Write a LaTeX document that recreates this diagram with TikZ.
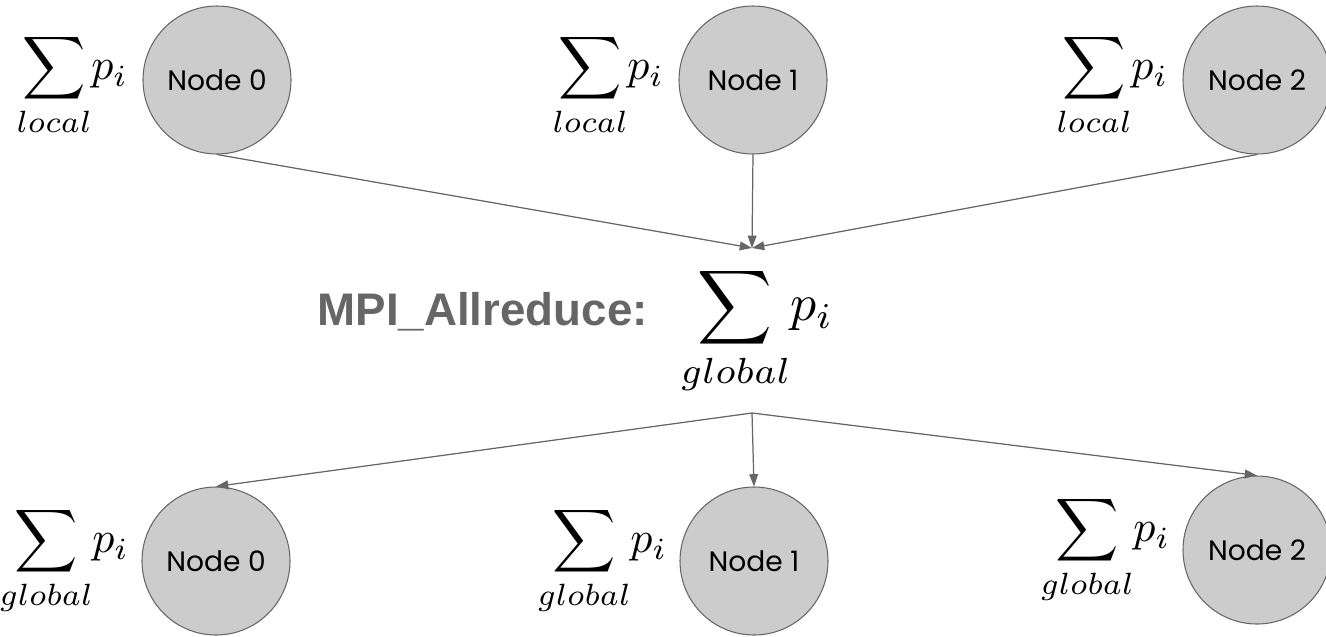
\documentclass[tikz,border=0pt]{standalone}
\usepackage{fontspec}
\newfontfamily\nodefont{Poppins}
\newfontfamily\headfont{Liberation Sans}
\usetikzlibrary{arrows.meta,positioning}
\definecolor{linegray}{HTML}{666666}
\definecolor{nodegray}{HTML}{CCCCCC}
\newcommand{\sumof}[2]{\scalebox{#1}{$\displaystyle\sum_{#2}\!p_i$}}

\begin{document}
\begin{tikzpicture}[
  >={Triangle[length=7pt,width=5pt]},
  mpinode/.style={circle,minimum size=2.96cm,inner sep=0pt,fill=nodegray,draw=linegray,line width=0.6pt,font=\nodefont\fontsize{16}{19}\selectfont},
  sumlabel/.style={inner sep=0pt},
  conn/.style={->,draw=linegray,fill=linegray,line width=0.7pt}]

  \useasboundingbox (0,0) rectangle (26.52,-12.72);

  \node[mpinode] (t0) at (4.34,-1.6) {Node 0};
  \node[mpinode] (t1) at (15.06,-1.6) {Node 1};
  \node[mpinode] (t2) at (25.14,-1.6) {Node 2};
  \node[sumlabel] (s0) [left=0.28cm of t0,yshift=-0.1cm] {\sumof{2.5}{local}};
  \node[sumlabel] (s1) [left=0.28cm of t1,yshift=-0.1cm] {\sumof{2.5}{local}};
  \node[sumlabel] (s2) [left=0.28cm of t2,yshift=-0.1cm] {\sumof{2.5}{local}};

  \coordinate (join) at (15.04,-4.96);
  \coordinate (fork) at (15.04,-8.26);

  \node[sumlabel] (gsum) at (15.14,-6.62) {\sumof{2.95}{global}};
  \node[anchor=east,inner sep=0pt,text=linegray,font=\headfont\bfseries\fontsize{26}{30}\selectfont] (allred) at (12.96,-6.24) {MPI\_Allreduce:};

  \node[mpinode] (b0) at (4.32,-11.22) {Node 0};
  \node[mpinode] (b1) at (15.08,-11.22) {Node 1};
  \node[mpinode] (b2) at (25.14,-11.0) {Node 2};
  \node[sumlabel] (g0) [left=0.24cm of b0] {\sumof{2.5}{global}};
  \node[sumlabel] (g1) [left=0.24cm of b1] {\sumof{2.5}{global}};
  \node[sumlabel] (g2) [left=0.24cm of b2] {\sumof{2.5}{global}};

  \draw[conn] (t0.south) -- (join);
  \draw[conn] (t1.south) -- (join);
  \draw[conn] (t2.south) -- (join);
  \draw[conn] (fork) -- (b0.north);
  \draw[conn] (fork) -- (b1.north);
  \draw[conn] (fork) -- (b2.north);
\end{tikzpicture}
\end{document}
